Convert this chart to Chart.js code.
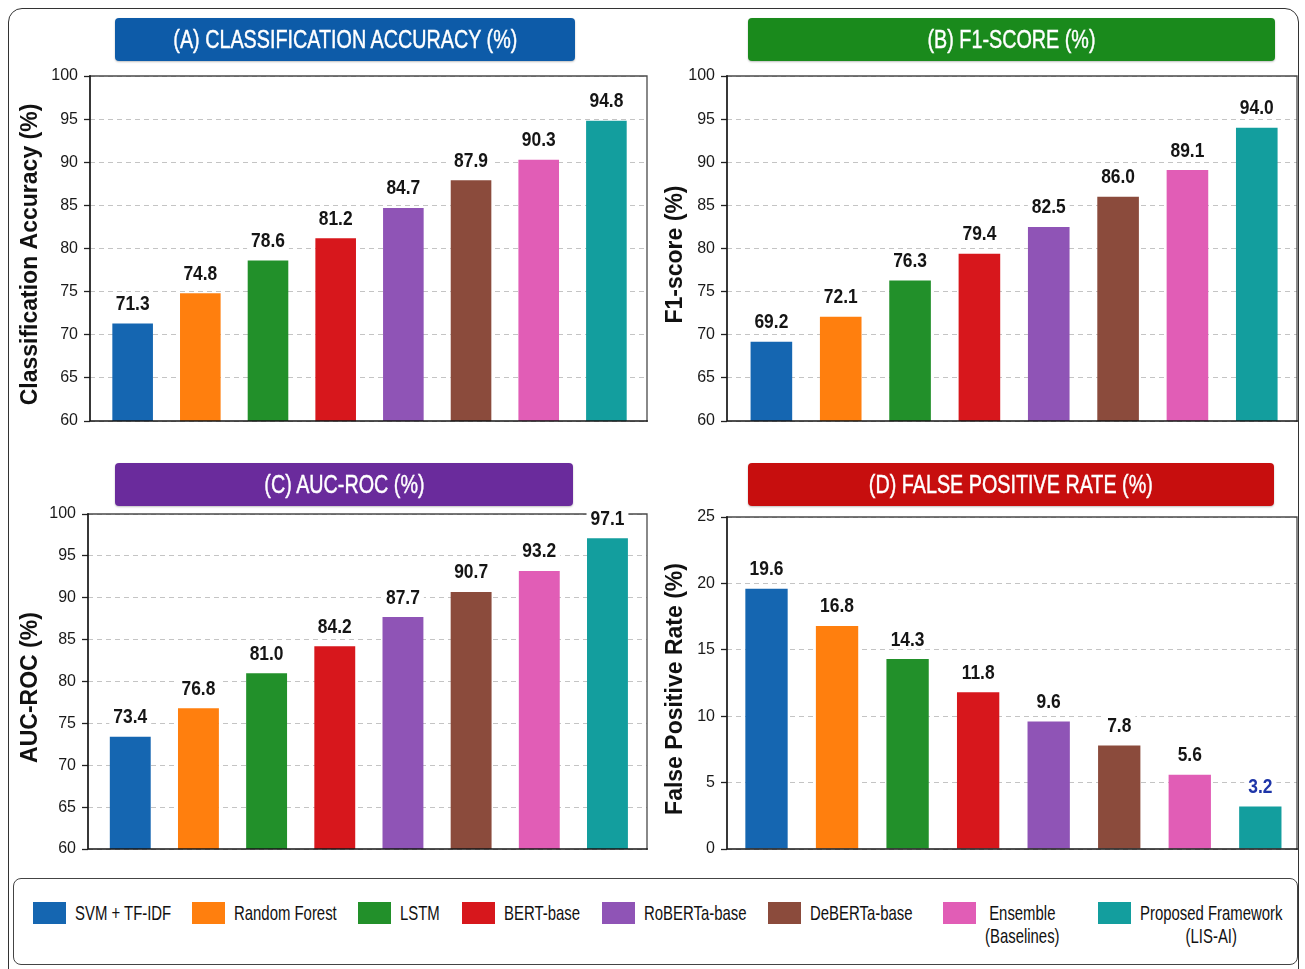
<!DOCTYPE html>
<html>
<head>
<meta charset="utf-8">
<script src="https://cdn.jsdelivr.net/npm/chart.js@4.4.1/dist/chart.umd.min.js"></script>
<style>
  html, body { margin: 0; padding: 0; background: #ffffff; }
  body {
    width: 1305px; height: 969px; position: relative; overflow: hidden;
    font-family: "Liberation Sans", Arial, sans-serif;
  }
  .frame {
    position: absolute; left: 8px; top: 8px; width: 1291px; height: 980px;
    border: 1.5px solid #333; border-radius: 14px; box-sizing: border-box;
  }
  .banner {
    position: absolute; height: 43px; border-radius: 4px; color: #fff;
    display: flex; align-items: center; justify-content: center;
    z-index: 2; box-shadow: 0 1px 2px rgba(0,0,0,0.25);
  }
  .banner span {
    display: inline-block; font-size: 26px; white-space: nowrap;
    -webkit-text-stroke: 0.45px #fff;
    transform: scaleX(0.76); transform-origin: center center;
  }
  .panel { position: absolute; z-index: 1; }
  .legend {
    position: absolute; left: 13px; top: 878px; width: 1285px; height: 87px;
    border: 1.5px solid #444; border-radius: 8px; box-sizing: border-box;
    display: flex; justify-content: flex-start; align-items: flex-start;
    padding: 22px 14px 0 19px; z-index: 2; background: #fff;
  }
  .item { display: flex; align-items: flex-start; margin-right: 22px; }
  .item:first-child { margin-right: 20px; }
  .item:nth-child(6) { margin-right: 30px; }
  .item:nth-child(7) { margin-right: auto; }
  .item:last-child { margin-right: 0; }
  .swatch { width: 33px; height: 22px; margin-top: 1px; margin-right: 9px; flex: none; }
  .lwrap { overflow: visible; }
  .label {
    display: inline-block; font-size: 21px; line-height: 23px; color: #111;
    text-align: center; white-space: nowrap; transform-origin: left top;
  }
</style>
</head>
<body>
<div class="frame"></div>

<div class="banner" id="bannerA" style="left:115px; top:18px; width:460px; background:#0d5ba8;"><span></span></div>
<div class="banner" id="bannerB" style="left:748px; top:18px; width:527px; background:#1a8a1c;"><span></span></div>
<div class="banner" id="bannerC" style="left:115px; top:463px; width:458px; background:#6a2b9c;"><span></span></div>
<div class="banner" id="bannerD" style="left:748px; top:463px; width:526px; background:#c70e0e;"><span></span></div>

<div class="panel" style="left:10px; top:59px; width:640px; height:379px;"><canvas id="chartA"></canvas></div>
<div class="panel" style="left:655px; top:59px; width:645px; height:379px;"><canvas id="chartB"></canvas></div>
<div class="panel" style="left:10px; top:497px; width:640px; height:369px;"><canvas id="chartC"></canvas></div>
<div class="panel" style="left:655px; top:500px; width:645px; height:366px;"><canvas id="chartD"></canvas></div>

<div class="legend" id="legend"></div>

<script>
// ---- Data ----
const categories = [
  'SVM + TF-IDF', 'Random Forest', 'LSTM', 'BERT-base',
  'RoBERTa-base', 'DeBERTa-base', 'Ensemble (Baselines)', 'Proposed Framework (LIS-AI)'
];
const accuracyValues = [71.3, 74.8, 78.6, 81.2, 84.7, 87.9, 90.3, 94.8];
const f1Values       = [69.2, 72.1, 76.3, 79.4, 82.5, 86.0, 89.1, 94.0];
const aucValues      = [73.4, 76.8, 81.0, 84.2, 87.7, 90.7, 93.2, 97.1];
const fprValues      = [19.6, 16.8, 14.3, 11.8, 9.6, 7.8, 5.6, 3.2];
const percentTicks   = [60, 65, 70, 75, 80, 85, 90, 95, 100];
const fprTicks       = [0, 5, 10, 15, 20, 25];
const panelTitles    = [
  '(A) CLASSIFICATION ACCURACY (%)', '(B) F1-SCORE (%)',
  '(C) AUC-ROC (%)', '(D) FALSE POSITIVE RATE (%)'
];
const axisTitles     = ['Classification Accuracy (%)', 'F1-score (%)', 'AUC-ROC (%)', 'False Positive Rate (%)'];

// ---- Styling ----
const barColors = ['#1566b1', '#ff7f0e', '#22902a', '#d7171c', '#8f54b6', '#8b4b3c', '#e15db6', '#139e9e'];
const FONT = '"Liberation Sans", Arial, sans-serif';
const LEGEND_SQUEEZE = 0.71;

['bannerA', 'bannerB', 'bannerC', 'bannerD'].forEach((id, i) => {
  document.querySelector('#' + id + ' span').textContent = panelTitles[i];
});

// Legend built from the category list; parenthesised suffixes go on a second line
const legendEl = document.getElementById('legend');
categories.forEach((name, i) => {
  const item = document.createElement('div');
  item.className = 'item';
  const sw = document.createElement('div');
  sw.className = 'swatch';
  sw.style.background = barColors[i];
  const wrap = document.createElement('div');
  wrap.className = 'lwrap';
  const lb = document.createElement('div');
  lb.className = 'label';
  const k = name.indexOf(' (');
  if (k > 0) {
    lb.innerHTML = name.slice(0, k) + '<br>' + name.slice(k + 1);
  } else {
    lb.textContent = name;
  }
  wrap.appendChild(lb);
  item.appendChild(sw);
  item.appendChild(wrap);
  legendEl.appendChild(item);
  // condensed lettering: squeeze horizontally and reserve only the squeezed width
  const w = lb.offsetWidth;
  lb.style.transform = 'scaleX(' + LEGEND_SQUEEZE + ')';
  wrap.style.width = (w * LEGEND_SQUEEZE) + 'px';
});

// Frame around the plotting area: dark axes on the left and bottom, lighter top/right edges
const plotFrame = {
  id: 'plotFrame',
  afterDatasetsDraw(chart) {
    const { ctx, chartArea: a } = chart;
    ctx.save();
    ctx.lineCap = 'square';
    ctx.strokeStyle = '#4a4a4a';
    ctx.lineWidth = 1.3;
    ctx.beginPath();
    ctx.moveTo(a.left, a.top); ctx.lineTo(a.right, a.top); ctx.lineTo(a.right, a.bottom);
    ctx.stroke();
    ctx.strokeStyle = '#161616';
    ctx.lineWidth = 1.7;
    ctx.beginPath();
    ctx.moveTo(a.left, a.top); ctx.lineTo(a.left, a.bottom); ctx.lineTo(a.right, a.bottom);
    ctx.stroke();
    ctx.restore();
  }
};

// Rotated y-axis title, centred a little below the middle of the plot
const yTitle = {
  id: 'yTitle',
  afterDraw(chart, args, opts) {
    const { ctx, chartArea: a } = chart;
    const y = chart.scales.y;
    ctx.save();
    ctx.translate(y.left + 21, (a.top + a.bottom) / 2 + 6);
    ctx.rotate(-Math.PI / 2);
    ctx.font = 'bold 23px ' + FONT;
    ctx.fillStyle = '#111';
    ctx.textAlign = 'center';
    ctx.textBaseline = 'middle';
    ctx.fillText(opts.text, 0, 0);
    ctx.restore();
  }
};

// Value printed above every bar, on a white patch so lines behind it are hidden
const valueLabels = {
  id: 'valueLabels',
  afterDatasetsDraw(chart, args, opts) {
    const { ctx } = chart;
    const meta = chart.getDatasetMeta(0);
    const ds = chart.data.datasets[0];
    const sx = 0.87;
    ctx.save();
    ctx.font = 'bold 20px ' + FONT;
    ctx.textAlign = 'center';
    ctx.textBaseline = 'middle';
    meta.data.forEach((bar, i) => {
      const txt = ds.data[i].y.toFixed(1);
      const w = ctx.measureText(txt).width * sx;
      const cy = bar.y - 20;
      ctx.fillStyle = '#ffffff';
      ctx.fillRect(bar.x - w / 2 - 4, cy - 10, w + 8, 20);
      ctx.save();
      ctx.translate(bar.x, cy + 1);
      ctx.scale(sx, 1);
      ctx.fillStyle = (opts.colorFor && opts.colorFor(i)) || '#151515';
      ctx.fillText(txt, 0, 0);
      ctx.restore();
    });
    ctx.restore();
  }
};

function makeChart(canvasId, values, ticks, axisTitle, yWidth, xMin, xMax, colorFor) {
  const positions = values.map((v, i) => i);
  return new Chart(document.getElementById(canvasId), {
    type: 'bar',
    data: {
      datasets: [{
        data: values.map((v, i) => ({ x: positions[i], y: v })),
        backgroundColor: barColors,
        borderWidth: 0,
        categoryPercentage: 1,
        barPercentage: 0.6
      }]
    },
    options: {
      responsive: true,
      maintainAspectRatio: false,
      animation: false,
      events: [],
      layout: { padding: { top: 17, right: 3, bottom: 17, left: 0 } },
      plugins: {
        legend: { display: false },
        tooltip: { enabled: false },
        valueLabels: { colorFor },
        yTitle: { text: axisTitle }
      },
      scales: {
        x: {
          type: 'linear',
          min: xMin,
          max: xMax,
          offset: false,
          display: false,
          afterBuildTicks: (s) => { s.ticks = positions.map(p => ({ value: p })); }
        },
        y: {
          min: ticks[0],
          max: ticks[ticks.length - 1],
          afterBuildTicks: (s) => { s.ticks = ticks.map(v => ({ value: v })); },
          afterFit: (s) => { s.width = yWidth; },
          border: { display: false, dash: [5, 4] },
          grid: {
            color: '#c4c4c4',
            lineWidth: 1,
            drawTicks: true,
            tickLength: 6,
            tickColor: '#222',
            tickWidth: 1.3,
            tickBorderDash: []
          },
          ticks: {
            color: '#1a1a1a',
            padding: 6,
            font: { family: FONT, size: 16 }
          },
          title: { display: false }
        }
      }
    },
    plugins: [plotFrame, valueLabels, yTitle]
  });
}

makeChart('chartA', accuracyValues, percentTicks, axisTitles[0], 80, -0.63, 7.6);
makeChart('chartB', f1Values, percentTicks, axisTitles[1], 72, -0.64, 7.58);
makeChart('chartC', aucValues, percentTicks, axisTitles[2], 78, -0.62, 7.58);
makeChart('chartD', fprValues, fprTicks, axisTitles[3], 72, -0.56, 7.52,
  (i) => (i === fprValues.length - 1 ? '#1e35a8' : null));
</script>
</body>
</html>
